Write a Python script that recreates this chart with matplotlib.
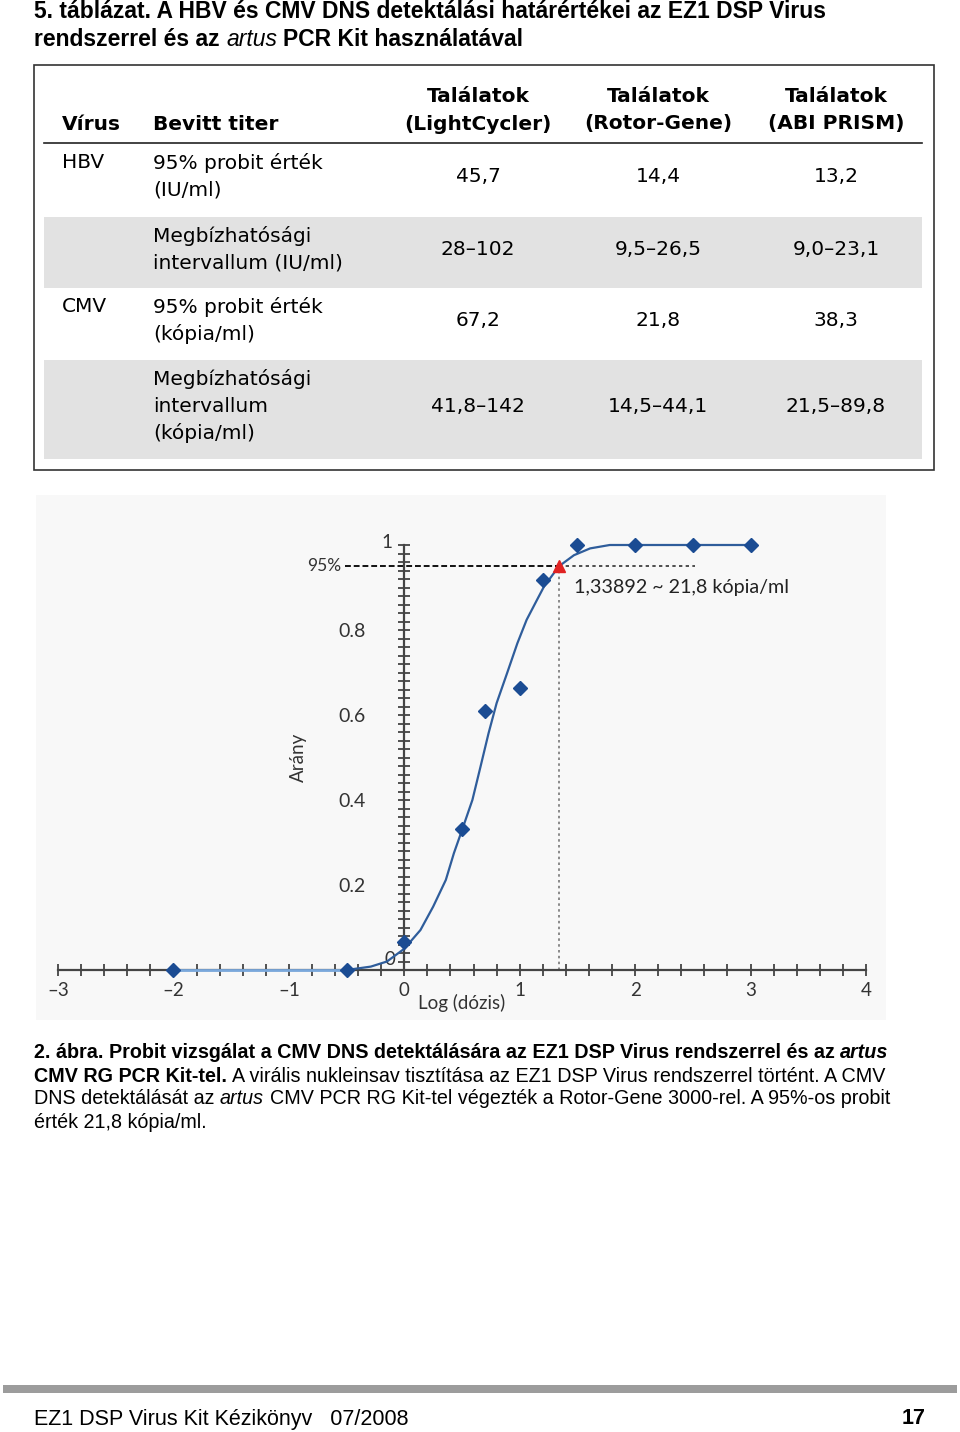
import numpy as np
import matplotlib
matplotlib.use("Agg")
from matplotlib import pyplot as plt
from matplotlib.patches import Rectangle
from matplotlib.ticker import MultipleLocator, FixedLocator
#
W, H = 960, 1432
DOC_FONT = "Liberation Sans"
TAB_FONT = "DejaVu Sans"
CHART_FONT = "Lato"
#
# table 5 data
col_heads = ["(LightCycler)", "(Rotor-Gene)", "(ABI PRISM)"]
viruses = ["HBV", "", "CMV", ""]
titers = [["95% probit érték", "(IU/ml)"],
          ["Megbízhatósági", "intervallum (IU/ml)"],
          ["95% probit érték", "(kópia/ml)"],
          ["Megbízhatósági", "intervallum", "(kópia/ml)"]]
lightcycler = ["45,7", "28–102", "67,2", "41,8–142"]
rotorgene = ["14,4", "9,5–26,5", "21,8", "14,5–44,1"]
abiprism = ["13,2", "9,0–23,1", "38,3", "21,5–89,8"]
#
# figure 2 data (probit analysis, CMV)
dose_log = [-2, -0.5, 0, 0.5, 0.7, 1.0, 1.2, 1.5, 2, 2.5, 3]
ratio = [0, 0, 0.066, 0.332, 0.61, 0.664, 0.918, 1, 1, 1, 1]
fit_x = [-0.5, -0.29, -0.15, 0.0, 0.14, 0.25, 0.36, 0.43, 0.5, 0.59, 0.66,
         0.73, 0.8, 0.89, 0.98, 1.06, 1.15, 1.21, 1.34, 1.47, 1.61, 1.78,
         2.0, 2.5, 3.0]
fit_y = [0, 0.008, 0.02, 0.05, 0.094, 0.149, 0.212, 0.275, 0.329, 0.4,
         0.478, 0.557, 0.628, 0.698, 0.769, 0.824, 0.871, 0.902, 0.95, 0.976,
         0.992, 1.0, 1.0, 1.0, 1.0]
base_x = [-2, -0.5]
base_y = [0, 0]
probit_x, probit_y = 1.33892, 0.95
probit_label = "1,33892 ~ 21,8 kópia/ml"
#
fig = plt.figure(figsize=(W / 100, H / 100), dpi=100)
page = fig.add_axes([0, 0, 1, 1])
page.set_xlim(0, W)
page.set_ylim(H, 0)
page.axis("off")
rend = fig.canvas.get_renderer()
#
def twidth(s, **kw):
    t = page.text(0, 0, s, **kw)
    w = t.get_window_extent(rend).width
    t.remove()
    return w
#
def runs(x, y, parts, size, family=DOC_FONT):
    # parts: (text, bold, italic); a space is put between parts
    for i, (s, b, it) in enumerate(parts):
        kw = dict(fontsize=size, family=family,
                  fontweight="bold" if b else "normal",
                  fontstyle="italic" if it else "normal")
        if i > 0:
            x += twidth("x x", **kw) - twidth("xx", **kw)
        t = page.text(x, y, s, va="center", ha="left", **kw)
        x += t.get_window_extent(rend).width
#
## Title
runs(34, 12, [("5. táblázat. A HBV és CMV DNS detektálási határértékei az EZ1 DSP Virus", True, False)], 16.5)
runs(34, 39, [("rendszerrel és az", True, False), ("artus", False, True),
              ("PCR Kit használatával", True, False)], 16.5)
#
## Table
page.add_patch(Rectangle((34, 65), 900, 405, fill=False, ec="#333333", lw=1.2))
for top, bot in [(217, 288), (360, 459)]:
    page.add_patch(Rectangle((44, top), 878, bot - top, fc="#e2e2e2", ec="none"))
page.plot([44, 922], [143, 143], color="#222222", lw=1.2)
ts = 14.5
page.text(62, 124, "Vírus", fontsize=ts, family=TAB_FONT, fontweight="bold", va="center")
page.text(153, 124, "Bevitt titer", fontsize=ts, family=TAB_FONT, fontweight="bold", va="center")
col_x = [478, 658, 836]
for cx, head in zip(col_x, col_heads):
    page.text(cx, 97, "Találatok", fontsize=ts, family=TAB_FONT, fontweight="bold", ha="center", va="center")
    page.text(cx, 124, head, fontsize=ts, family=TAB_FONT, fontweight="bold", ha="center", va="center")
row_first = [163, 236, 307, 379]
for i in range(4):
    y0 = row_first[i]
    page.text(62, y0, viruses[i], fontsize=ts, family=TAB_FONT, va="center")
    for k, line in enumerate(titers[i]):
        page.text(153, y0 + 27 * k, line, fontsize=ts, family=TAB_FONT, va="center")
    ym = y0 + 27 * (len(titers[i]) - 1) / 2
    for cx, col in zip(col_x, [lightcycler, rotorgene, abiprism]):
        page.text(cx, ym, col[i], fontsize=ts, family=TAB_FONT, ha="center", va="center")
#
## Chart background
page.add_patch(Rectangle((36, 495), 850, 525, fc="#f8f8f8", ec="none"))
#
# axes placed so that x -3..4 -> px 58..866, y 0..1 -> px 970..545
x0p, x1p = 58, 866
y0p, y1p = 970, 545
ylo, yhi = -0.1, 1.1
upp = (y0p - y1p)
bot_px = y0p - ylo * upp
top_px = y0p - yhi * upp
ax = fig.add_axes([x0p / W, (H - bot_px) / H, (x1p - x0p) / W, (bot_px - top_px) / H])
ax.set_xlim(-3, 4)
ax.set_ylim(ylo, yhi)
ax.patch.set_alpha(0)
for s in ["top", "right"]:
    ax.spines[s].set_visible(False)
ax.spines["left"].set_position(("data", 0))
ax.spines["bottom"].set_position(("data", 0))
ax.spines["left"].set_bounds(0, 1)
for s in ["left", "bottom"]:
    ax.spines[s].set_color("#444444")
    ax.spines[s].set_linewidth(1.6)
ax.set_xticks(range(-3, 5))
ax.set_xticklabels([str(v).replace("-", "\u2013") for v in range(-3, 5)],
                   family=CHART_FONT, fontsize=13.5, color="#333333")
ax.xaxis.set_minor_locator(MultipleLocator(0.2))
ax.tick_params(axis="x", which="both", direction="inout", length=8, width=1.3,
               color="#444444", pad=5)
ax.set_yticks([0.2, 0.4, 0.6, 0.8])
ax.set_yticklabels(["0.2", "0.4", "0.6", "0.8"], family=CHART_FONT, fontsize=14, color="#333333")
ax.yaxis.set_minor_locator(FixedLocator(np.linspace(0, 1, 51)))
ax.tick_params(axis="y", which="both", direction="inout", length=8, width=1.3,
               color="#444444", pad=24)
ax.text(-0.1, 1.005, "1", family=CHART_FONT, fontsize=13.5, color="#333333", ha="right", va="center")
ax.text(-0.12, 0.005, "0", family=CHART_FONT, fontsize=13.5, color="#333333", ha="center", va="bottom")
#
## 95% guides
ax.plot([-0.51, probit_x], [probit_y] * 2, color="#111111", lw=1.4, ls=(0, (3, 1.5)))
ax.plot([probit_x, 2.52], [probit_y] * 2, color="#333333", lw=1.2, ls=(0, (2, 2)))
ax.plot([probit_x] * 2, [0, probit_y], color="#777777", lw=1.2, ls=(0, (1.5, 2)))
ax.text(-0.55, probit_y, "95%", family=CHART_FONT, fontsize=12.5, color="#333333", ha="right", va="center")
#
## curve and points
ax.plot(base_x, base_y, color="#7aa8dc", lw=2, zorder=3)
ax.plot(fit_x, fit_y, color="#2f5d9b", lw=1.6, zorder=3)
ax.plot(dose_log, ratio, ls="none", marker="D", ms=7.5, color="#1b4c93", zorder=4)
ax.plot([probit_x], [probit_y], ls="none", marker="^", ms=8, color="#e02222", zorder=5)
ax.text(1.47, 0.90, probit_label, family=CHART_FONT, fontsize=14.2, color="#222222", va="center")
ax.text(-0.92, 0.5, "Arány", family=CHART_FONT, fontsize=13.5, color="#333333",
        rotation=90, ha="center", va="center")
ax.text(0.5, -0.078, "Log (dózis)", family=CHART_FONT, fontsize=13.5, color="#333333",
        ha="center", va="center")
#
## Caption
cs = 14.2
runs(34, 1053, [("2. ábra. Probit vizsgálat a CMV DNS detektálására az EZ1 DSP Virus rendszerrel és az", True, False),
                ("artus", True, True)], cs)
runs(34, 1076, [("CMV RG PCR Kit-tel.", True, False),
                ("A virális nukleinsav tisztítása az EZ1 DSP Virus rendszerrel történt. A CMV", False, False)], cs)
runs(34, 1099, [("DNS detektálását az", False, False), ("artus", False, True),
                ("CMV PCR RG Kit-tel végezték a Rotor-Gene 3000-rel. A 95%-os probit", False, False)], cs)
runs(34, 1122, [("érték 21,8 kópia/ml.", False, False)], cs)
#
## Footer
page.add_patch(Rectangle((3, 1385), 954, 8, fc="#9c9c9c", ec="none"))
page.text(34, 1419, "EZ1 DSP Virus Kit Kézikönyv   07/2008", family=DOC_FONT, fontsize=15.5, va="center")
page.text(926, 1419, "17", family=DOC_FONT, fontsize=15.5, fontweight="bold", ha="right", va="center")
#
fig.savefig("out.png", dpi=100)
